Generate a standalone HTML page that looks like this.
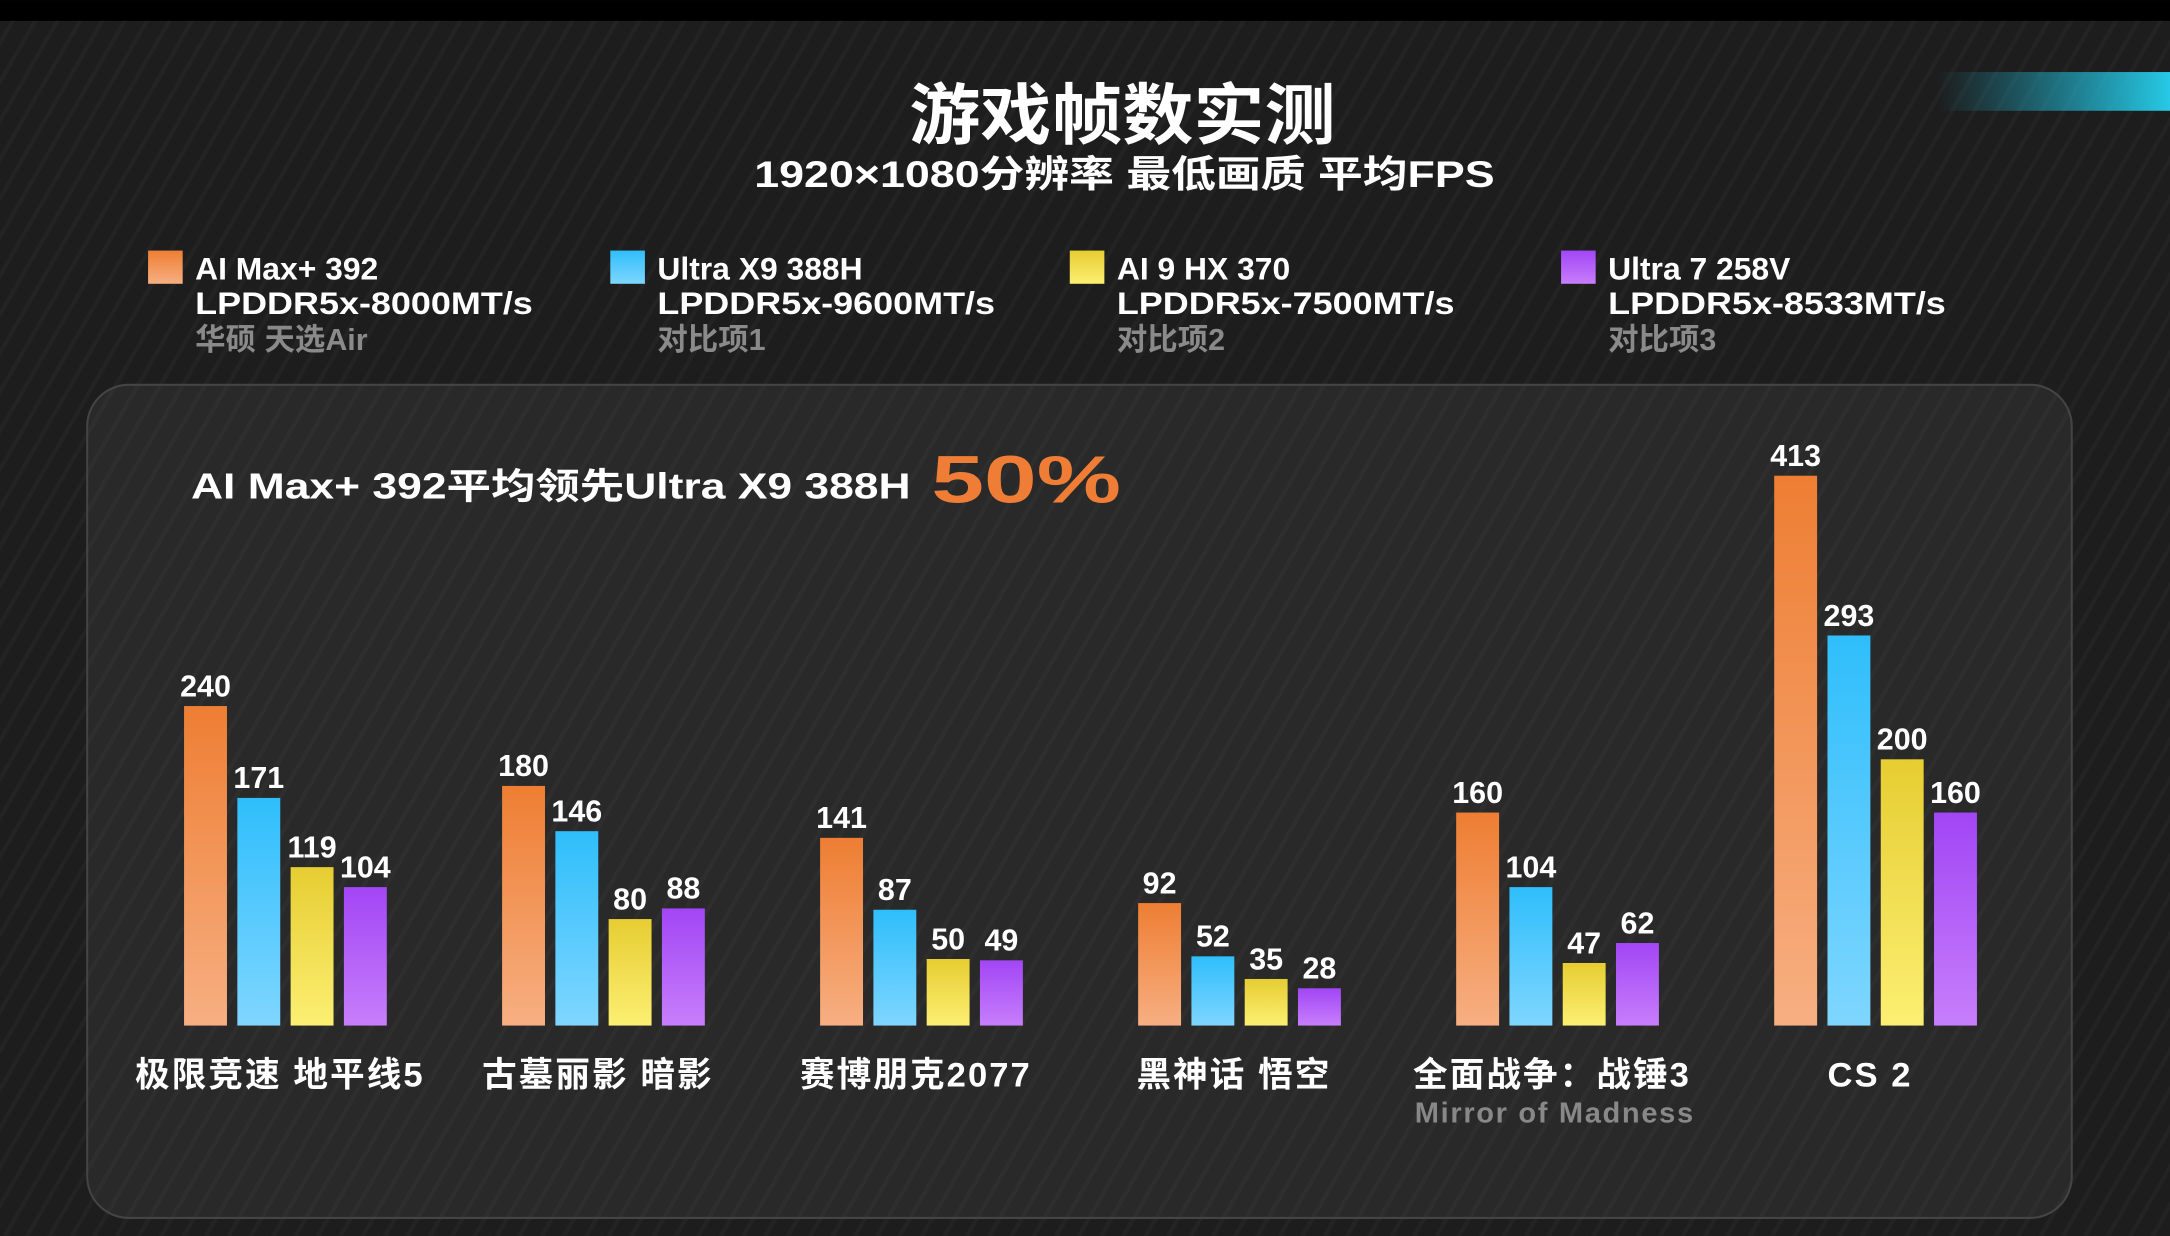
<!DOCTYPE html>
<html><head><meta charset="utf-8">
<style>
html,body{margin:0;padding:0;background:#1c1c1c;}
svg{display:block;}
text{font-family:"Liberation Sans","Noto Sans CJK SC",sans-serif;font-weight:700;}
</style></head>
<body>
<svg id="chart" width="2170" height="1236" viewBox="0 0 1568 893" xmlns="http://www.w3.org/2000/svg">
<defs>
<pattern id="stripes" patternUnits="userSpaceOnUse" width="14" height="14" patternTransform="rotate(30)">
<rect width="14" height="14" fill="#1d1d1d"/><rect width="3" height="14" fill="#232323"/>
</pattern>
<pattern id="stripes2" patternUnits="userSpaceOnUse" width="14" height="14" patternTransform="rotate(30)">
<rect width="14" height="14" fill="#292929"/><rect width="3" height="14" fill="#2e2e2e"/>
</pattern>
<linearGradient id="g0" x1="0" y1="0" x2="0" y2="1"><stop offset="0" stop-color="#ee7e33"/><stop offset="1" stop-color="#f7af82"/></linearGradient>
<linearGradient id="g1" x1="0" y1="0" x2="0" y2="1"><stop offset="0" stop-color="#2fbefb"/><stop offset="1" stop-color="#7fd6ff"/></linearGradient>
<linearGradient id="g2" x1="0" y1="0" x2="0" y2="1"><stop offset="0" stop-color="#e6cd32"/><stop offset="1" stop-color="#fcef72"/></linearGradient>
<linearGradient id="g3" x1="0" y1="0" x2="0" y2="1"><stop offset="0" stop-color="#a246f5"/><stop offset="1" stop-color="#c77efb"/></linearGradient>
<linearGradient id="glow" x1="0" y1="0" x2="1" y2="0"><stop offset="0" stop-color="#1ab4d0" stop-opacity="0"/><stop offset="1" stop-color="#26c9e6"/></linearGradient>
</defs>
<rect width="1568" height="893" fill="url(#stripes)"/>
<rect width="1568" height="15" fill="#000"/>
<rect x="1400" y="52" width="168" height="28" fill="url(#glow)"/>
<text x="657" y="100" font-size="48" fill="#fff" textLength="308" lengthAdjust="spacingAndGlyphs">游戏帧数实测</text>
<text x="545" y="135" font-size="27" fill="#fff" textLength="535" lengthAdjust="spacingAndGlyphs">1920×1080分辨率  最低画质  平均FPS</text>
<g id="legend"></g>
<rect x="63" y="278" width="1434" height="602" rx="30" fill="url(#stripes2)" stroke="#444" stroke-width="1.5"/>
<text x="138" y="360" font-size="26" fill="#fff" textLength="520" lengthAdjust="spacingAndGlyphs">AI Max+ 392平均领先Ultra X9 388H</text>
<text x="673" y="363" font-size="48" fill="#f07d35" font-weight="900" textLength="137" lengthAdjust="spacingAndGlyphs">50%</text>
<g id="bars"></g>
</svg>
<script>
const categories = ["极限竞速 地平线5","古墓丽影 暗影","赛博朋克2077","黑神话 悟空","全面战争：战锤3","CS 2"];
const subLabels = ["","","","","Mirror of Madness",""];
const seriesNames = ["AI Max+ 392","Ultra X9 388H","AI 9 HX 370","Ultra 7 258V"];
const seriesMem = ["LPDDR5x-8000MT/s","LPDDR5x-9600MT/s","LPDDR5x-7500MT/s","LPDDR5x-8533MT/s"];
const seriesNote = ["华硕 天选Air","对比项1","对比项2","对比项3"];
const aiMax392 = [240,180,141,92,160,413];
const ultraX9 = [171,146,87,52,104,293];
const ai9hx370 = [119,80,50,35,47,200];
const ultra7 = [104,88,49,28,62,160];
const series = [aiMax392, ultraX9, ai9hx370, ultra7];

const NS = "http://www.w3.org/2000/svg";
function mk(tag, attrs, parent){const e=document.createElementNS(NS,tag);for(const k in attrs)e.setAttribute(k,attrs[k]);parent.appendChild(e);return e;}
const baseY = 741, pxPerUnit = 0.962;
function yScale(v){return baseY - v*pxPerUnit;}
const groupStart = 133, groupStep = 229.8, barStep = 38.5, barW = 31;
function xScale(gi, si){return groupStart + gi*groupStep + si*barStep;}

const legend = document.getElementById('legend');
const legX = [107,441,773,1128];
seriesNames.forEach((n,i)=>{
  const r = mk('rect',{x:legX[i],y:181,width:25,height:24,fill:'url(#g'+i+')'},legend);
  
  
  const t1 = mk('text',{x:legX[i]+34,y:202,'font-size':23,fill:'#fff'},legend); t1.textContent=n;
  
  
  const t2 = mk('text',{x:legX[i]+34,y:227,'font-size':23,fill:'#fff',textLength:244,lengthAdjust:'spacingAndGlyphs'},legend); t2.textContent=seriesMem[i];
  
  
  const t3 = mk('text',{x:legX[i]+34,y:253,'font-size':22,fill:'#8a8a8a'},legend); t3.textContent=seriesNote[i];
  
  
});

const bars = document.getElementById('bars');
categories.forEach((c,gi)=>{
  series.forEach((s,si)=>{
    const x = xScale(gi,si), y = yScale(s[gi]);
    const r = mk('rect',{x:x,y:y,width:barW,height:baseY-y,fill:'url(#g'+si+')'},bars);
    
    
    const t = mk('text',{x:x+barW/2,y:y-7,'font-size':22,fill:'#fff','text-anchor':'middle'},bars);
    t.textContent = s[gi];
    
    
  });
  const cx = xScale(gi,0) + (3*barStep+barW)/2;
  const lbl = mk('text',{x:cx-4,y:785,'font-size':25,fill:'#fff','text-anchor':'middle','letter-spacing':1.5},bars);
  lbl.textContent = c;
  
  
  if(subLabels[gi]){
    const sl = mk('text',{x:cx-2,y:811,'font-size':21,fill:'#888','text-anchor':'middle','font-weight':400,'letter-spacing':1.2},bars);
    sl.textContent = subLabels[gi];
    
    
  }
});
</script>
</body></html>
